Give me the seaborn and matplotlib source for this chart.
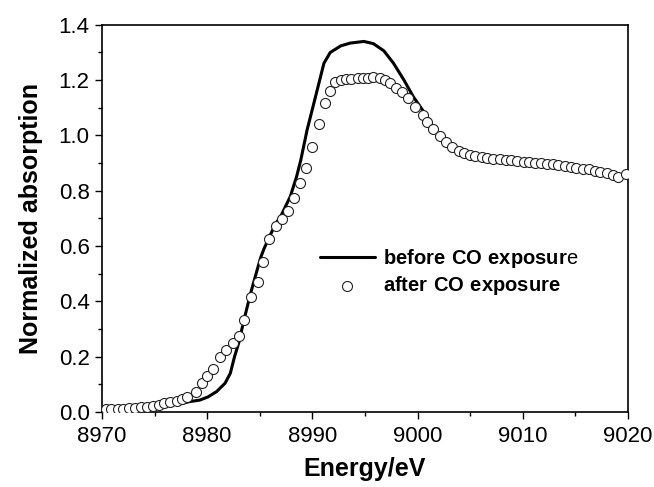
import numpy as np
import pandas as pd
import matplotlib
matplotlib.use("Agg")
import matplotlib.pyplot as plt
import seaborn as sns
from matplotlib.ticker import MultipleLocator

# Cu K-edge XANES
# before CO exposure (solid line)
before_energy = [8970.0, 8972.0, 8974.0, 8976.0, 8977.4, 8978.4, 8979.3, 8980.1,
                 8980.9, 8981.7, 8982.2, 8982.6, 8983.0, 8983.5, 8984.1, 8984.7,
                 8985.1, 8985.4, 8986.0, 8986.5, 8987.0, 8987.9, 8988.5, 8988.9,
                 8989.5, 8990.3, 8991.1, 8991.7, 8992.7, 8993.6, 8994.9, 8995.8,
                 8996.8, 8997.7, 8998.7, 8999.6, 9000.6, 9001.0, 9001.5, 9002.1,
                 9003.0, 9004.0, 9005.0, 9006.0, 9008.0, 9010.0, 9012.0, 9014.0,
                 9016.0, 9018.0, 9020.0]
before_absorption = [0.008, 0.010, 0.014, 0.022, 0.030, 0.038, 0.043, 0.055,
                     0.074, 0.104, 0.140, 0.200, 0.250, 0.333, 0.425, 0.507,
                     0.560, 0.590, 0.640, 0.680, 0.708, 0.779, 0.851, 0.911,
                     1.020, 1.140, 1.261, 1.300, 1.324, 1.334, 1.340, 1.332,
                     1.306, 1.262, 1.201, 1.140, 1.085, 1.062, 1.030, 0.998,
                     0.965, 0.942, 0.928, 0.921, 0.912, 0.905, 0.897, 0.889,
                     0.878, 0.864, 0.855]

# after CO exposure (open circles)
after_energy = [8970.4, 8970.9, 8971.5, 8972.0, 8972.6, 8973.1, 8973.7, 8974.3,
                8974.8, 8975.4, 8975.9, 8976.5, 8977.1, 8977.6, 8978.1, 8978.9,
                8979.5, 8980.0, 8980.6, 8981.2, 8981.8, 8982.5, 8983.0, 8983.5,
                8984.2, 8984.8, 8985.3, 8985.9, 8986.5, 8987.1, 8987.7, 8988.3,
                8988.8, 8989.4, 8990.0, 8990.6, 8991.2, 8991.7, 8992.2, 8992.7,
                8993.2, 8993.7, 8994.3, 8994.8, 8995.3, 8995.8, 8996.4, 8996.9,
                8997.4, 8998.0, 8998.5, 8999.1, 8999.8, 9000.5, 9000.9, 9001.5,
                9002.1, 9002.7, 9003.3, 9003.9, 9004.4, 9005.0, 9005.5, 9006.1,
                9006.6, 9007.2, 9007.8, 9008.4, 9008.9, 9009.5, 9010.1, 9010.6,
                9011.2, 9011.7, 9012.3, 9012.9, 9013.4, 9014.0, 9014.6, 9015.1,
                9015.7, 9016.3, 9016.9, 9017.4, 9018.0, 9018.6, 9019.1, 9019.8]
after_absorption = [0.011, 0.011, 0.012, 0.012, 0.013, 0.014, 0.017, 0.019,
                    0.022, 0.026, 0.031, 0.036, 0.040, 0.046, 0.054, 0.072,
                    0.104, 0.130, 0.154, 0.200, 0.226, 0.251, 0.276, 0.333,
                    0.417, 0.471, 0.542, 0.625, 0.673, 0.697, 0.728, 0.774,
                    0.827, 0.883, 0.957, 1.042, 1.116, 1.161, 1.192, 1.201,
                    1.204, 1.205, 1.207, 1.208, 1.209, 1.212, 1.209, 1.201,
                    1.189, 1.173, 1.156, 1.135, 1.102, 1.074, 1.048, 1.022,
                    0.997, 0.978, 0.959, 0.945, 0.936, 0.929, 0.926, 0.921,
                    0.919, 0.916, 0.914, 0.911, 0.910, 0.908, 0.905, 0.904,
                    0.902, 0.899, 0.897, 0.895, 0.892, 0.890, 0.887, 0.884,
                    0.880, 0.877, 0.872, 0.868, 0.864, 0.858, 0.849, 0.862]

before_df = pd.DataFrame({"energy": before_energy, "absorption": before_absorption})
after_df = pd.DataFrame({"energy": after_energy, "absorption": after_absorption})

sns.set_style("ticks")
plt.rcParams["font.family"] = ["Liberation Sans", "DejaVu Sans"]
plt.rcParams["mathtext.fontset"] = "custom"
plt.rcParams["mathtext.rm"] = "Liberation Sans"
plt.rcParams["mathtext.bf"] = "Liberation Sans:bold"
plt.rcParams["text.color"] = "black"
plt.rcParams["axes.labelcolor"] = "black"
plt.rcParams["xtick.color"] = "black"
plt.rcParams["ytick.color"] = "black"

fig = plt.figure(figsize=(6.54, 4.87), dpi=100)
ax = fig.add_axes([0.156, 0.154, 0.804, 0.795])

sns.lineplot(data=before_df, x="energy", y="absorption", ax=ax, color="black",
             linewidth=2.2, label=r"$\mathbf{before\ CO\ exposur}$e", zorder=2)
sns.scatterplot(data=after_df, x="energy", y="absorption", ax=ax, marker="o",
                s=52, facecolor="white", edgecolor="#222222", linewidth=0.8,
                label=r"$\mathbf{after\ CO\ exposure}$", zorder=3)

ax.set_xlim(8970, 9020)
ax.set_ylim(0, 1.4)
ax.xaxis.set_major_locator(MultipleLocator(10))
ax.xaxis.set_minor_locator(MultipleLocator(5))
ax.yaxis.set_major_locator(MultipleLocator(0.2))
ax.yaxis.set_minor_locator(MultipleLocator(0.1))
ax.yaxis.set_major_formatter(plt.FormatStrFormatter("%.1f"))
ax.tick_params(which="major", direction="out", length=5, width=1, labelsize=16,
               colors="black")
ax.tick_params(axis="x", which="major", pad=5)
ax.tick_params(axis="y", which="major", pad=4)
ax.tick_params(which="minor", direction="out", length=3, width=1)

for side in ["top", "right", "bottom", "left"]:
    ax.spines[side].set_visible(True)
    ax.spines[side].set_linewidth(1.2)
    ax.spines[side].set_color("black")

ax.set_xlabel("Energy/eV", fontsize=18, fontweight="bold", labelpad=7)
ax.set_ylabel("Normalized absorption", fontsize=18, fontweight="bold", labelpad=11)

ax.legend(loc="upper left", bbox_to_anchor=(0.415, 0.425), frameon=False,
          fontsize=14.5, handlelength=2.7, handletextpad=0.4, borderpad=0,
          labelspacing=0.2, borderaxespad=0)

fig.savefig("out.png", dpi=100)
